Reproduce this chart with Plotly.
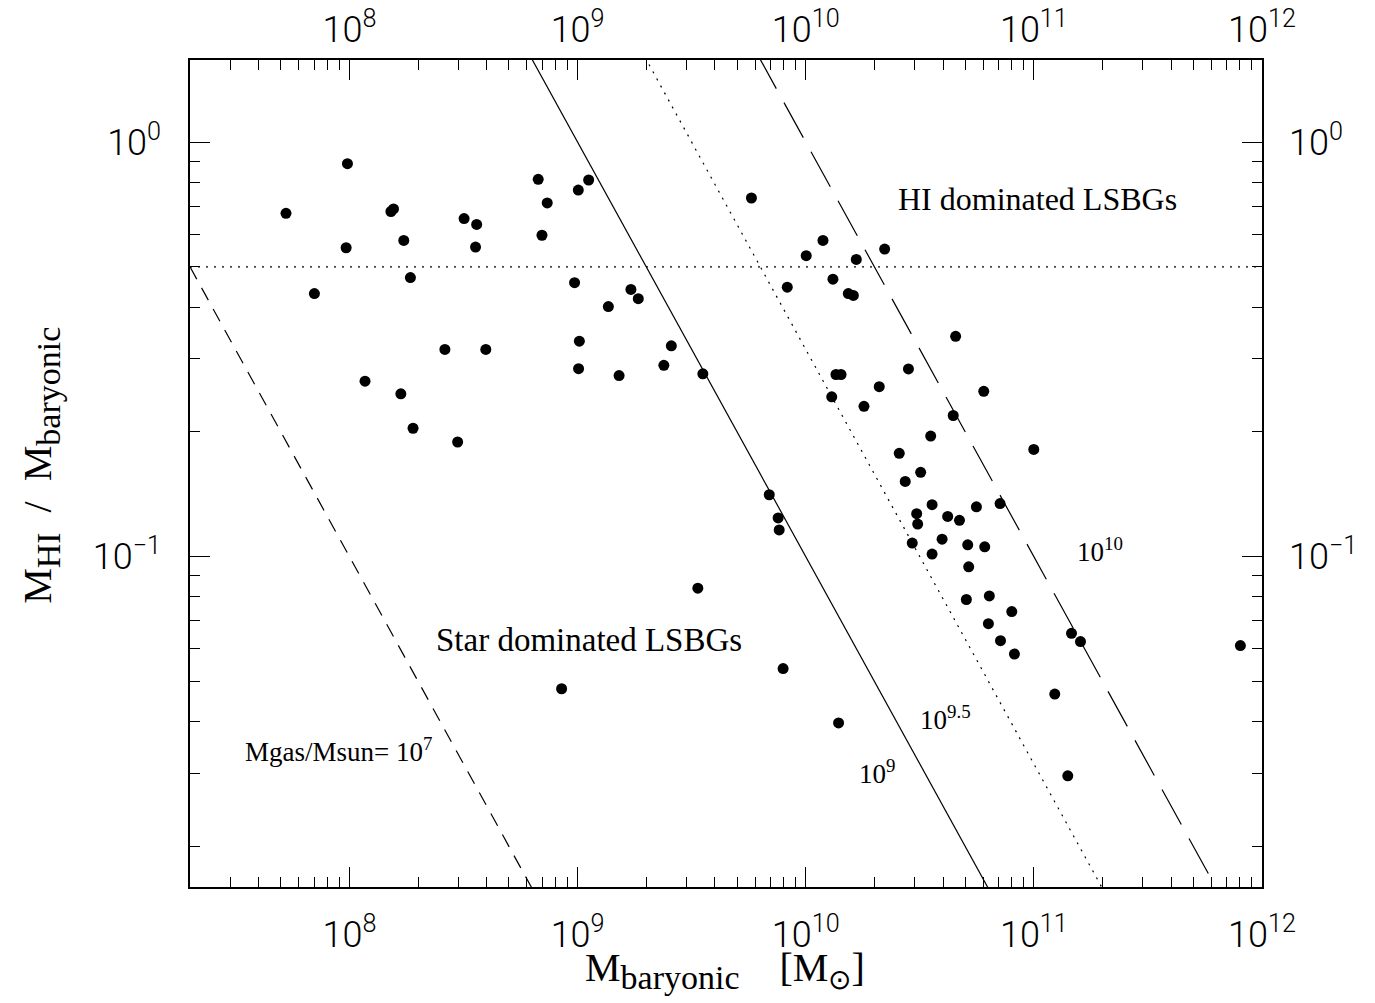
import numpy as np
import plotly.graph_objects as go

# ---------------- data ----------------
m_baryonic = [
    5.27e7, 7.02e7, 9.8e7, 9.67e7, 1.17e8, 1.52e8, 1.56e8, 1.68e8, 1.73e8, 1.85e8,
    1.90e8, 2.62e8, 2.98e8, 3.18e8, 3.61e8, 3.57e8, 3.96e8,
    6.72e8, 1.118e9, 1.007e9, 7.36e8, 6.98e8, 9.70e8, 1.713e9, 1.845e9, 1.364e9,
    1.018e9, 2.576e9, 1.01e9, 1.52e9, 2.388e9, 3.54e9,
    6.92e9, 7.57e9, 7.65e9, 3.365e9, 8.51e8, 7.96e9, 1.393e10,
    5.78e9, 1.19e10, 1.005e10, 1.666e10, 2.218e10, 8.30e9, 1.316e10, 1.537e10, 1.617e10,
    1.357e10, 1.428e10, 1.30e10, 2.10e10, 1.80e10, 2.82e10, 4.54e10, 6.03e10, 4.43e10,
    3.53e10, 9.99e10, 2.57e10, 3.19e10, 2.73e10, 3.58e10, 3.064e10, 5.60e10, 7.11e10,
    4.19e10, 4.72e10, 3.095e10, 2.93e10, 3.96e10, 3.58e10, 5.13e10, 6.09e10, 5.18e10,
    5.06e10, 6.38e10, 8.0e10, 6.32e10, 7.14e10, 8.22e10, 1.462e11, 1.601e11,
    1.235e11, 1.408e11, 8.04e11,
]
hi_fraction = [
    0.673, 0.431, 0.887, 0.556, 0.265, 0.680, 0.690, 0.247, 0.579, 0.471,
    0.204, 0.316, 0.189, 0.654, 0.633, 0.558, 0.316,
    0.813, 0.810, 0.766, 0.713, 0.596, 0.458, 0.441, 0.419, 0.401,
    0.331, 0.3225, 0.284, 0.2734, 0.2894, 0.276,
    0.141, 0.124, 0.116, 0.0839, 0.048, 0.0537, 0.0397,
    0.733, 0.579, 0.532, 0.521, 0.552, 0.4467, 0.467, 0.431, 0.4266,
    0.275, 0.275, 0.243, 0.257, 0.2305, 0.2837, 0.340, 0.2505, 0.219,
    0.1954, 0.1814, 0.1775, 0.1597, 0.1518, 0.1334, 0.1269, 0.1319, 0.1343,
    0.125, 0.1223, 0.1198, 0.1078, 0.1102, 0.1014, 0.1068, 0.1056, 0.0945,
    0.0788, 0.0804, 0.0737, 0.0689, 0.0627, 0.0582, 0.0653, 0.0624,
    0.0466, 0.0296, 0.061,
]

# constant gas-mass lines  M_HI/M_bar = M_gas / M_bar
gas_masses = [1e7, 1e9, 10 ** 9.5, 1e10]
gas_dashes = ["14px,10px", "solid", "2px,6px", "40px,16px"]
hi_split = 0.5  # horizontal dotted line

x_range = [2e7, 1e12]
y_range = [10 ** -1.797, 10 ** 0.198]

x_major = [1e8, 1e9, 1e10, 1e11, 1e12]
x_major_text = ["10<sup>8</sup>", "10<sup>9</sup>", "10<sup>10</sup>", "10<sup>11</sup>", "10<sup>12</sup>"]
y_major = [0.1, 1.0]
y_major_text = ["10<sup>\u22121</sup>", "10<sup>0</sup>"]

x_minor = [m * 10 ** e for e in range(7, 12) for m in range(2, 10)]
y_minor = [m * 10 ** e for e in range(-2, 1) for m in range(2, 10)]

# ---------------- figure ----------------
fig = go.Figure()

xs_line = np.array(x_range)
for mg, dash in zip(gas_masses, gas_dashes):
    fig.add_trace(go.Scatter(
        x=xs_line, y=mg / xs_line, mode="lines",
        line=dict(color="black", width=1.2, dash=dash),
        hoverinfo="skip", showlegend=False,
    ))

fig.add_trace(go.Scatter(
    x=x_range, y=[hi_split, hi_split], mode="lines",
    line=dict(color="black", width=1.2, dash="2px,6px"),
    hoverinfo="skip", showlegend=False,
))

fig.add_trace(go.Scatter(
    x=m_baryonic, y=hi_fraction, mode="markers",
    marker=dict(color="black", size=11, line=dict(width=0)),
    showlegend=False, cliponaxis=True,
))

# invisible trace for top/right axes
fig.add_trace(go.Scatter(x=x_range, y=y_range, xaxis="x2", yaxis="y2",
                         mode="markers", marker=dict(opacity=0),
                         hoverinfo="skip", showlegend=False))

tick_font = dict(family="Roboto, Liberation Sans, sans-serif", size=36, color="black", weight=300)
lx = [np.log10(v) for v in x_range]
ly = [np.log10(v) for v in y_range]

common_x = dict(type="log", range=lx, showgrid=False, zeroline=False, automargin=False)
common_y = dict(type="log", range=ly, showgrid=False, zeroline=False, automargin=False)

fig.update_layout(
    width=1375, height=1003,
    margin=dict(l=190, r=113, t=60, b=116, autoexpand=False),
    plot_bgcolor="white", paper_bgcolor="white",
    xaxis=dict(**common_x, showline=True, linecolor="black", linewidth=2, mirror="ticks",
               ticks="inside", ticklen=20, tickwidth=1.3, tickcolor="black",
               tickvals=x_major, ticktext=x_major_text, tickfont=tick_font,
               ticklabelstandoff=15,
               minor=dict(ticks="inside", ticklen=10, tickwidth=1.3, tickcolor="black",
                          tickvals=x_minor, showgrid=False)),
    yaxis=dict(**common_y, showline=True, linecolor="black", linewidth=1.5, mirror="ticks",
               ticks="inside", ticklen=20, tickwidth=1.3, tickcolor="black",
               tickvals=y_major, ticktext=y_major_text, tickfont=tick_font,
               ticklabelstandoff=20,
               minor=dict(ticks="inside", ticklen=10, tickwidth=1.3, tickcolor="black",
                          tickvals=y_minor, showgrid=False)),
    xaxis2=dict(**common_x, overlaying="x", side="top", anchor="y2", showline=False, ticks="",
                tickvals=x_major, ticktext=x_major_text, tickfont=tick_font,
                ticklabelstandoff=10),
    yaxis2=dict(**common_y, overlaying="y", side="right", anchor="x2", showline=False, ticks="",
                tickvals=y_major, ticktext=y_major_text, tickfont=tick_font,
                ticklabelstandoff=26),
)

serif = "Liberation Serif, Times New Roman, serif"
text_items = [
    ("HI dominated LSBGs", 11.018, -0.138, 32),
    ("Star dominated LSBGs", 9.052, -1.201, 33),
    ("Mgas/Msun= 10<sup>7</sup>", 7.95, -1.467, 27),
    ("10<sup>9</sup>", 10.314, -1.52, 27),
    ("10<sup>9.5</sup>", 10.612, -1.39, 27),
    ("10<sup>10</sup>", 11.292, -0.984, 27),
]
for txt, ax_, ay_, sz in text_items:
    fig.add_annotation(x=ax_, y=ay_, xref="x", yref="y", text=txt, showarrow=False,
                       font=dict(family=serif, size=sz, color="black"))

# axis titles
big_sub = "<sub><span style=\"font-size:34px\">{}</span></sub>"
fig.add_annotation(x=0.499, xref="paper", y=-0.068, yref="paper", yanchor="top",
                   text="M" + big_sub.format("baryonic") + "\u2003[M<sub>\u2299</sub>]",
                   showarrow=False, font=dict(family=serif, size=40, color="black"))
fig.add_annotation(x=-0.165, xref="paper", y=0.51, yref="paper", textangle=-90,
                   text="M" + big_sub.format("HI") + "\u2002/\u2002M" + big_sub.format("baryonic"),
                   showarrow=False, font=dict(family=serif, size=40, color="black"))

fig.write_html("out.html")
